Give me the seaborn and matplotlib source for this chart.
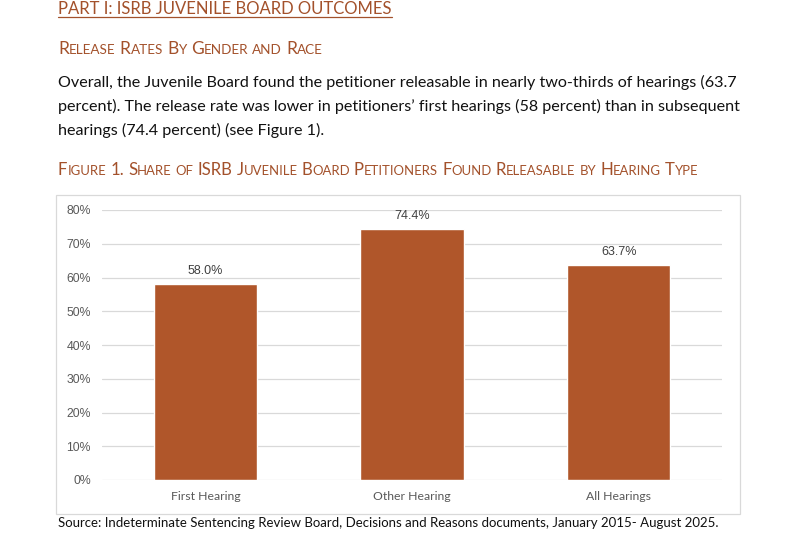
import matplotlib
matplotlib.use("Agg")
import matplotlib.pyplot as plt
import matplotlib.patches as patches
from matplotlib.ticker import FuncFormatter
import seaborn as sns

# Data
categories = ["First Hearing", "Other Hearing", "All Hearings"]
release_rates = [58.0, 74.4, 63.7]
y_ticks = [0, 10, 20, 30, 40, 50, 60, 70, 80]

heading = "PART I: ISRB JUVENILE BOARD OUTCOMES"
subheading = "Release Rates By Gender and Race"
paragraph = [
    "Overall, the Juvenile Board found the petitioner releasable in nearly two-thirds of hearings (63.7",
    "percent). The release rate was lower in petitioners\u2019 first hearings (58 percent) than in subsequent",
    "hearings (74.4 percent) (see Figure 1).",
]
fig_title = "Figure 1. Share of ISRB Juvenile Board Petitioners Found Releasable by Hearing Type"
source = "Source: Indeterminate Sentencing Review Board, Decisions and Reasons documents, January 2015- August 2025."

W, H = 800, 534
BROWN = "#A3512B"
BAR = "#B0562A"
GREY = "#595959"
DOC_FONT = "Lato"

sns.set_theme(style="white")
plt.rcParams["font.family"] = ["Liberation Sans", "DejaVu Sans"]

fig = plt.figure(figsize=(W / 100, H / 100), dpi=100)
renderer = fig.canvas.get_renderer()


def fy(py):
    return 1 - py / H


def smallcaps(x_px, y_px, s, size, color):
    # fake small caps: uppercase stays full size, lowercase becomes smaller capitals
    small = size * 0.78
    x = x_px
    space = size * 0.24 * 100 / 72
    for word in s.split(" "):
        runs = []
        for ch in word:
            big = not ch.islower()
            if runs and runs[-1][1] == big:
                runs[-1][0] += ch.upper()
            else:
                runs.append([ch.upper(), big])
        for txt, big in runs:
            t = fig.text(x / W, fy(y_px), txt, fontsize=size if big else small,
                         color=color, family=DOC_FONT, va="baseline", ha="left")
            x += t.get_window_extent(renderer).width
        x += space
    return x


# heading with underline
t = fig.text(58 / W, fy(14), heading, fontsize=12.0, color=BROWN, family=DOC_FONT,
             va="baseline", ha="left")
w = t.get_window_extent(renderer).width
fig.add_artist(plt.Line2D([58 / W, (58 + w) / W], [fy(17), fy(17)], color=BROWN, lw=0.9))

smallcaps(58, 54, subheading, 12.5, BROWN)

for i, line in enumerate(paragraph):
    fig.text(58 / W, fy(87 + 24 * i), line, fontsize=11.6, color="#111111",
             family=DOC_FONT, va="baseline", ha="left")

smallcaps(58, 175, fig_title, 12.1, BROWN)

# chart frame
fig.add_artist(patches.Rectangle((56 / W, fy(514)), (740 - 56) / W, (514 - 195) / H,
                                 transform=fig.transFigure, fill=False,
                                 edgecolor="#D9D9D9", lw=0.9))

ax = fig.add_axes([102 / W, fy(480), (722 - 102) / W, (480 - 210) / H])
sns.barplot(x=categories, y=release_rates, color=BAR, width=0.5, saturation=1, ax=ax)
ax.set_xlim(-0.5, 2.5)
ax.set_ylim(0, 80)
ax.set_yticks(y_ticks)
ax.yaxis.set_major_formatter(FuncFormatter(lambda v, p: f"{v:.0f}%"))
ax.grid(axis="y", color="#D9D9D9", lw=0.9)
ax.set_axisbelow(True)
for sp in ax.spines.values():
    sp.set_visible(False)
ax.tick_params(axis="y", length=0, pad=8, labelsize=8.8, labelcolor=GREY)
ax.tick_params(axis="x", length=0, pad=8, labelsize=8.8, labelcolor=GREY)
for lab in ax.get_xticklabels():
    lab.set_family(DOC_FONT)
ax.set_xlabel("")
ax.set_ylabel("")
ax.bar_label(ax.containers[0], fmt="%.1f%%", padding=5, fontsize=9, color="#404040")

fig.text(58 / W, fy(527), source, fontsize=9.5, color="#111111", family=DOC_FONT,
         va="baseline", ha="left")

fig.savefig("out.png", dpi=100)
